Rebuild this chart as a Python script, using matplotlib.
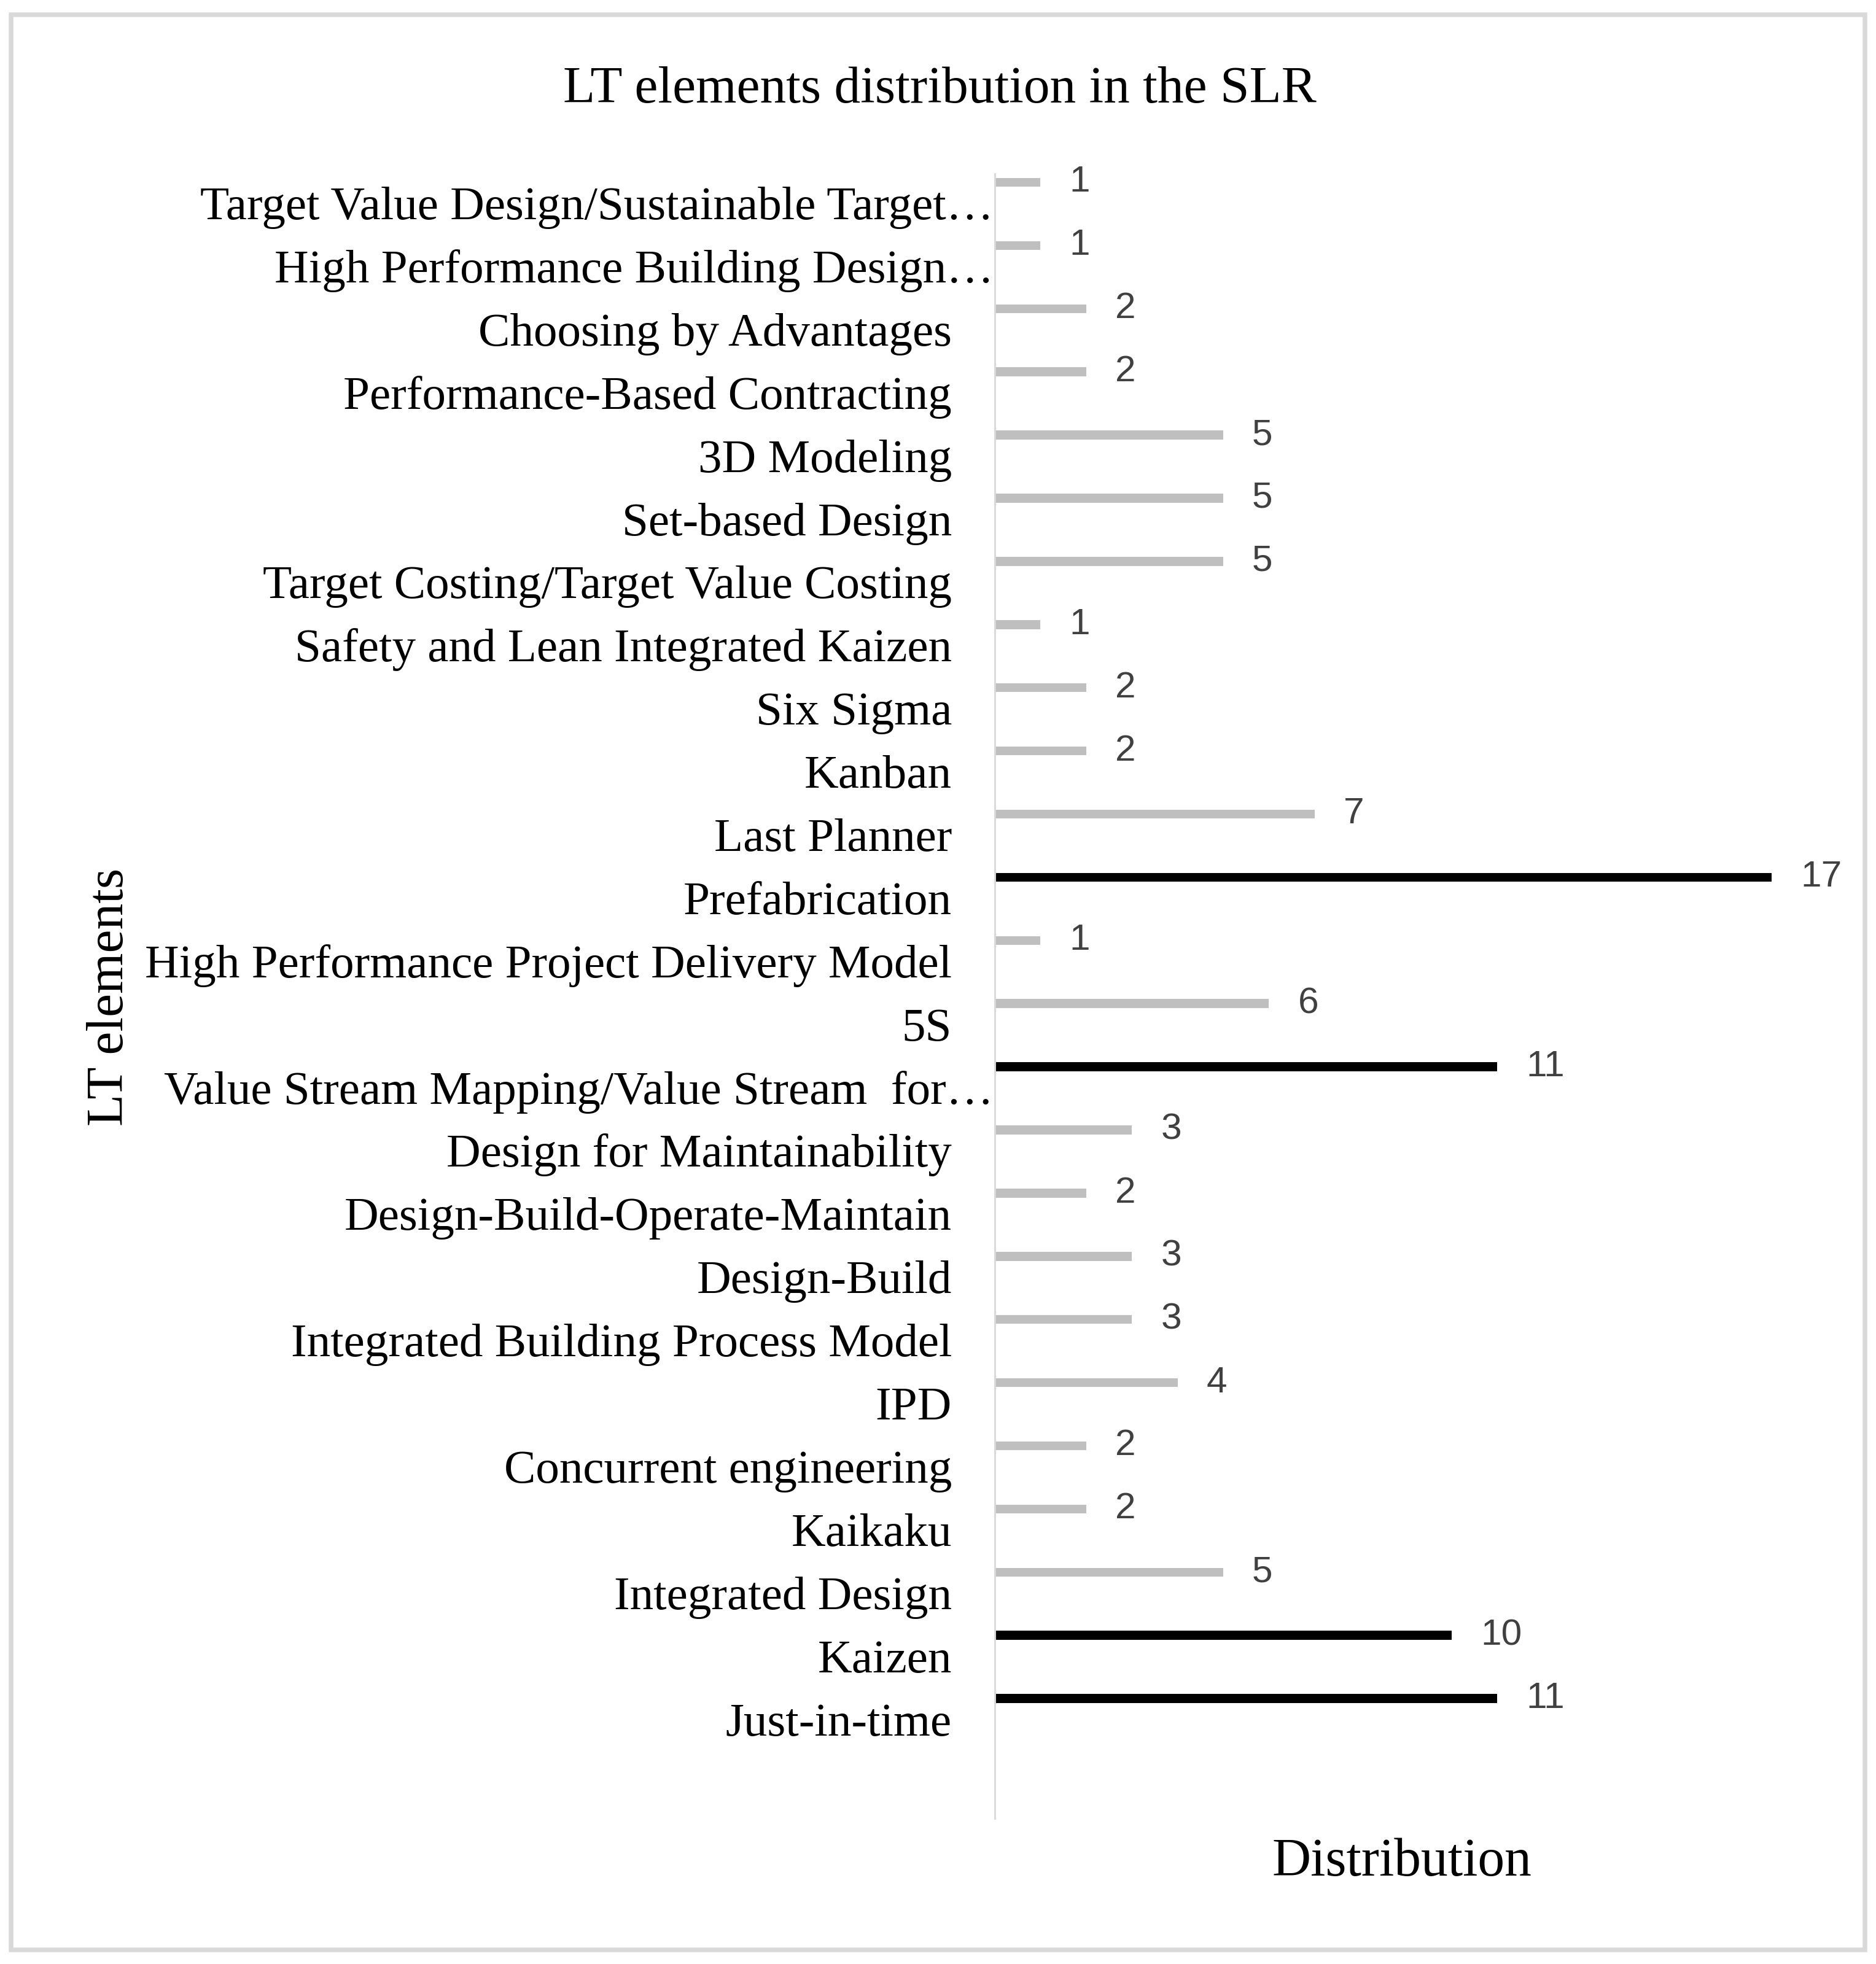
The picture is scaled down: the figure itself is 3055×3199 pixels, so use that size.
import matplotlib
matplotlib.use("Agg")
import matplotlib.pyplot as plt
from matplotlib.patches import Rectangle

elements = [
    "Target Value Design/Sustainable Target…",
    "High Performance Building Design…",
    "Choosing by Advantages",
    "Performance-Based Contracting",
    "3D Modeling",
    "Set-based Design",
    "Target Costing/Target Value Costing",
    "Safety and Lean Integrated Kaizen",
    "Six Sigma",
    "Kanban",
    "Last Planner",
    "Prefabrication",
    "High Performance Project Delivery Model",
    "5S",
    "Value Stream Mapping/Value Stream  for…",
    "Design for Maintainability",
    "Design-Build-Operate-Maintain",
    "Design-Build",
    "Integrated Building Process Model",
    "IPD",
    "Concurrent engineering",
    "Kaikaku",
    "Integrated Design",
    "Kaizen",
    "Just-in-time",
]
counts = [1, 1, 2, 2, 5, 5, 5, 1, 2, 2, 7, 17, 1, 6, 11, 3, 2, 3, 3, 4, 2, 2, 5, 10, 11]

W, H = 3055, 3199
DPI = 300
SERIF = ["Liberation Serif", "DejaVu Serif"]
SANS = ["Liberation Sans", "DejaVu Sans"]

fig = plt.figure(figsize=(W / DPI, H / DPI), dpi=DPI)
fig.patch.set_facecolor("white")

# frame round the whole chart
fig.add_artist(Rectangle((18 / W, 1 - 3176 / H), (3037 - 18) / W, (3176 - 24) / H,
                         transform=fig.transFigure, fill=False, ec="#d9d9d9", lw=1.8))

# axes placed in pixel terms
left, top, bottom = 1620, 283, 2962
px_per_unit = 74.4
xmax = 19
ax = fig.add_axes([left / W, 1 - bottom / H, xmax * px_per_unit / W, (bottom - top) / H])

step = 102.9
first = 297
ypos = list(range(len(elements)))
colors = ["#000000" if v >= 10 else "#bfbfbf" for v in counts]
ax.barh(ypos, counts, height=14.5 / step, color=colors, zorder=2)

ax.set_xlim(0, xmax)
ax.set_ylim((bottom - first) / step, (top - first) / step)
for s in ("top", "right", "bottom"):
    ax.spines[s].set_visible(False)
ax.spines["left"].set_color("#d9d9d9")
ax.spines["left"].set_linewidth(0.7)
ax.set_xticks([])
ax.set_yticks([])

# value labels
for y, v in zip(ypos, counts):
    ax.annotate(str(v), (v, y), xytext=(11.3, 0), textcoords="offset points",
                ha="left", va="center", fontsize=14.5, color="#404040",
                family=SANS, annotation_clip=False)

# category labels, baseline a little below each bar
for y, lab in zip(ypos, elements):
    pad = 2 if lab.endswith("…") else 70
    x_fig = (left - pad) / W
    y_fig = 1 - (first + y * step + 60) / H
    fig.text(x_fig, y_fig, lab, ha="right", va="baseline", fontsize=18.5,
             family=SERIF, color="black")

fig.text(1530 / W, 1 - 167 / H, "LT elements distribution in the SLR", ha="center",
         va="baseline", fontsize=20.5, family=SERIF)
fig.text(218 / W, 1 - 1624 / H, "LT elements", rotation=90, ha="right", va="center",
         fontsize=20.5, family=SERIF)
fig.text(2283 / W, 1 - 3055 / H, "Distribution", ha="center", va="baseline",
         fontsize=21, family=SERIF)

fig.savefig("out.png", dpi=DPI, facecolor="white")
